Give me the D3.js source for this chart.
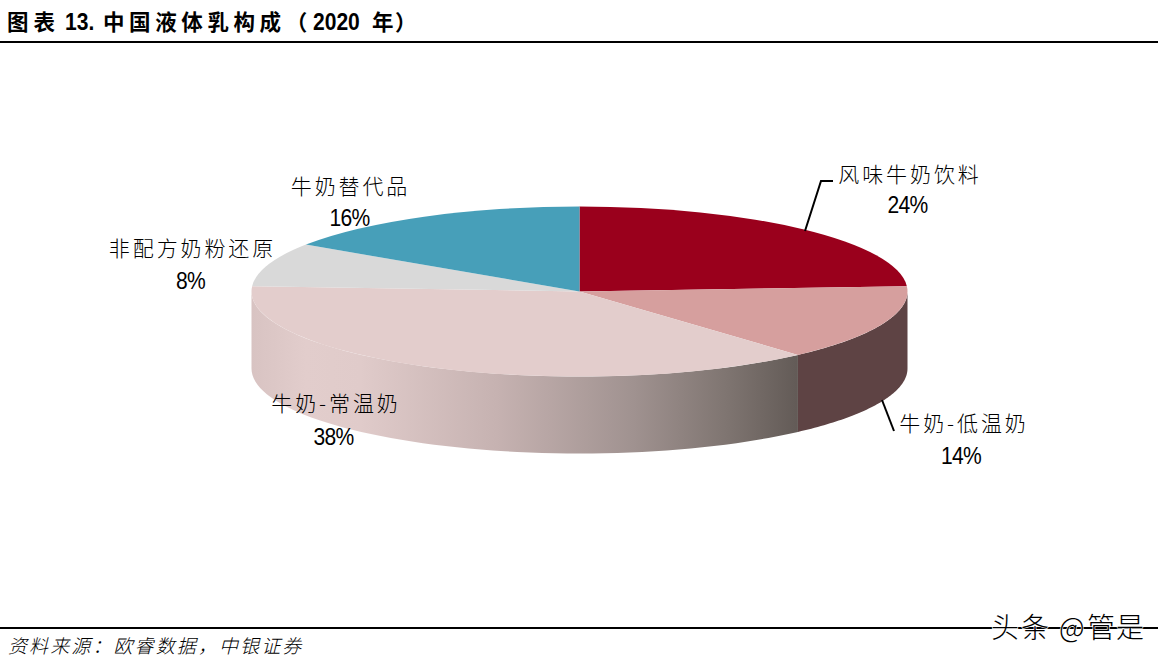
<!DOCTYPE html>
<html><head><meta charset="utf-8">
<script src="https://cdn.jsdelivr.net/npm/d3@7/dist/d3.min.js"></script>
<style>
html,body{margin:0;padding:0;background:#fff}
svg{display:block}
text{font-family:"Noto Sans CJK SC","Liberation Sans",sans-serif;fill:#000}
</style></head><body><svg id="c" width="1166" height="661"></svg>
<script>
const categories=["风味牛奶饮料","牛奶-低温奶","牛奶-常温奶","非配方奶粉还原","牛奶替代品"];
const values=[24,14.4,37.6,8.3,15.7];
const topColors=["#9a001c","#d69f9e","#e3cdcc","#d9d9d9","#479fb9"];
const sideColors=["#5e0011","#5e4344","url(#sideGrad)","#8a8a8a","#2c6272"];
const valueLabels=values.map(v=>Math.round(v)+"%");

const svg=d3.select("#c");
const ruleEnd=1158;
const cx=579.5,cy=291.5,rx=328,ry=85,depth=77;
const arcs=d3.pie().sort(null).value(d=>d)(values);
const defs=svg.append("defs");
const grad=defs.append("linearGradient").attr("id","sideGrad").attr("gradientUnits","userSpaceOnUse")
  .attr("x1",251).attr("x2",797).attr("y1",0).attr("y2",0);
[[0,"#d8c3c2"],[0.1,"#e2cdcc"],[0.2,"#e0cbca"],[0.45,"#c6b2b1"],[0.7,"#a09290"],[0.87,"#7f7571"],[1,"#635b57"]]
 .forEach(s=>grad.append("stop").attr("offset",s[0]).attr("stop-color",s[1]));

const px=a=>cx+rx*Math.sin(a), py=a=>cy-ry*Math.cos(a);
arcs.forEach((d,i)=>{
  const a0=Math.max(d.startAngle,Math.PI/2),a1=Math.min(d.endAngle,3*Math.PI/2);
  if(a1<=a0)return;
  const scale=d3.scaleLinear().domain([0,60]).range([a0,a1]);
  const pts=d3.range(0,61).map(k=>scale(k));
  const line=d3.line();
  const upper=pts.map(a=>[px(a),py(a)]);
  const lower=pts.slice().reverse().map(a=>[px(a),py(a)+depth]);
  svg.append("path").attr("d",line(upper.concat(lower))+"Z").attr("fill",sideColors[i]);
});
const arcGen=d3.arc().innerRadius(0).outerRadius(rx);
svg.append("g").attr("transform",`translate(${cx},${cy}) scale(1,${ry/rx})`)
  .selectAll("path").data(arcs).join("path")
  .attr("d",arcGen).attr("fill",(d,i)=>topColors[i]);

const leaders=[[[805,231],[821,181],[833,181]],[[882,400],[894,431]]];
leaders.forEach(p=>svg.append("path").attr("d",d3.line()(p)).attr("fill","none").attr("stroke","#000").attr("stroke-width",2));

const labelPos=[[910,[182,213]],[964,[431,464]],[336,[411,445]],[192.5,[256,289]],[350.5,[194,226]]];
const pctX=[907.5,961,333.5,190.5,349.5];
categories.forEach((c,i)=>{
  const [x,[y1,y2]]=labelPos[i];
  svg.append("text").attr("x",x).attr("y",y1).attr("text-anchor","middle")
    .attr("font-size",21).attr("font-weight",300).style("letter-spacing","2.9px").text(c);
  svg.append("text").attr("transform",`translate(${pctX[i]},${y2}) scale(0.86,1)`).attr("text-anchor","middle")
    .attr("font-size",24.5).style("font-family","'Liberation Sans'").style("letter-spacing","-0.8px").text(valueLabels[i]);
});

const titleParts=[["图表",7,5,"cjk"],["13.",65,0,"lat"],["中国液体乳构成（",103,4.6,"cjk"],["2020",313,0,"lat"],["年",372,0,"cjk"],["）",395,0,"cjk"]];
titleParts.forEach(([t,x,ls,kind])=>{
  const sel=svg.append("text").attr("font-size",kind=="cjk"?21.5:24.5).attr("font-weight",700)
    .style("letter-spacing",ls+"px").style("font-family",kind=="cjk"?"'Noto Sans CJK SC'":"'Liberation Sans'").text(t);
  sel.attr("transform",`translate(${x},29.5)`+(kind=="lat"?" scale(0.86,1)":""));
});
svg.append("line").attr("x1",0).attr("x2",ruleEnd).attr("y1",42).attr("y2",42).attr("stroke","#000").attr("stroke-width",2);
svg.append("line").attr("x1",0).attr("x2",ruleEnd).attr("y1",628).attr("y2",628).attr("stroke","#000").attr("stroke-width",2);
svg.append("text").attr("x",8).attr("y",653).attr("font-size",19).attr("font-style","italic").attr("font-weight",300)
  .style("letter-spacing","2.1px").text("资料来源：欧睿数据，中银证券");
[["头条",991,2],["@",1059,0],["管是",1087,1]].forEach(([t,x,ls])=>{
  svg.append("text").attr("x",x).attr("y",638).attr("font-size",28).attr("font-weight",300)
    .style("letter-spacing",ls+"px").attr("stroke","#fff").attr("stroke-width",1.2).attr("paint-order","stroke").text(t);
});
</script></body></html>
